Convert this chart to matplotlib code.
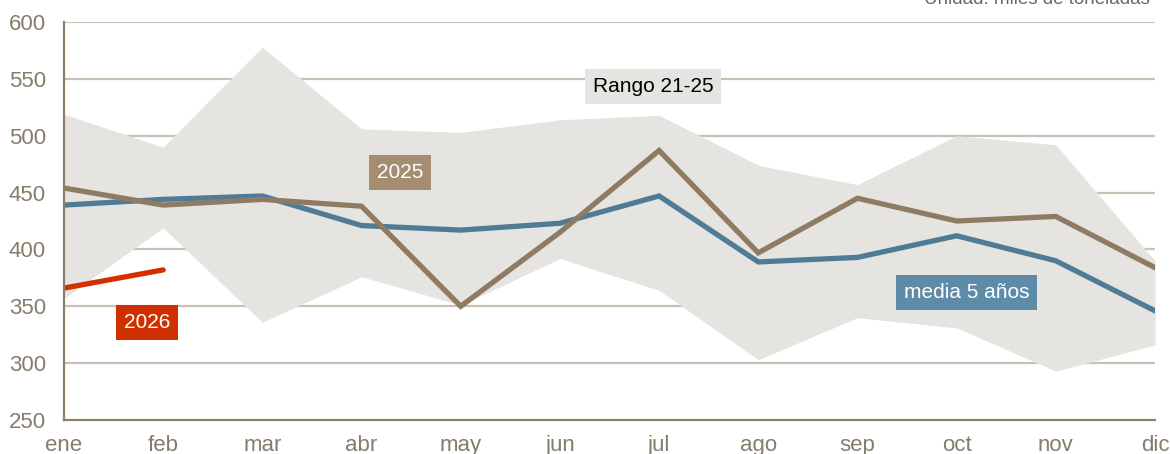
import matplotlib
matplotlib.use("Agg")
import matplotlib.pyplot as plt
import numpy as np

months = ["ene", "feb", "mar", "abr", "may", "jun", "jul", "ago", "sep", "oct", "nov", "dic"]
range_max = [519, 490, 578, 506, 503, 514, 518, 474, 457, 500, 492, 390]
range_min = [357, 419, 336, 376, 351, 392, 364, 303, 340, 331, 293, 316]
y2025 = [454, 439, 444, 438, 350, 415, 487, 397, 445, 425, 429, 384]
media5 = [439, 444, 447, 421, 417, 423, 447, 389, 393, 412, 390, 346]
y2026 = [366, 382]
yticks = [250, 300, 350, 400, 450, 500, 550, 600]

plt.rcParams['font.family'] = ['Liberation Sans', 'DejaVu Sans']

fig = plt.figure(figsize=(11.7, 4.54), dpi=100)
ax = fig.add_axes([64/1170, 1-420/454, (1155-64)/1170, (420-22)/454])

x = np.arange(len(months))
grid_c = "#c9c2b4"
for yv in yticks[1:]:
    ax.axhline(yv, color=grid_c, lw=1.6, zorder=1)

ax.fill_between(x, range_min, range_max, color="#e6e4e0", lw=0, zorder=2)
ax.plot(x, media5, color="#4f7b97", lw=3.8, zorder=3, solid_joinstyle='miter')
ax.plot(x, y2025, color="#8e7b63", lw=3.8, zorder=4, solid_joinstyle='miter')
ax.plot(x[:len(y2026)], y2026, color="#d42f00", lw=3.8, zorder=5, solid_capstyle='round')

ax.set_xlim(0, 11)
ax.set_ylim(250, 600)
ax.set_xticks(x)
ax.set_xticklabels(months)
ax.set_yticks(yticks)
ax.tick_params(axis='both', length=0, labelsize=16, colors="#857c6b")
ax.tick_params(axis='x', pad=11)
ax.tick_params(axis='y', pad=13)
for s in ["top", "right"]:
    ax.spines[s].set_visible(False)
for s in ["left", "bottom"]:
    ax.spines[s].set_color("#8c806c")
    ax.spines[s].set_linewidth(1.6)
    ax.spines[s].set_zorder(6)

def label(xv, yv, txt, fc, tc):
    ax.text(xv, yv, txt, ha='center', va='center', fontsize=15, color=tc, zorder=7,
            bbox=dict(boxstyle='square,pad=0.38', fc=fc, ec='none'))

label(5.94, 543, "Rango 21-25", "#e6e4e0", "black")
label(3.39, 468, "2025", "#a58d72", "white")
label(0.84, 336, "2026", "#d03000", "white")
label(9.1, 362, "media 5 años", "#5e8ca8", "white")

fig.text(1150/1170, 1 - 4.5/454, "Unidad: miles de toneladas", ha='right', va='baseline',
         fontsize=13.5, color="#6d685d")

fig.savefig("out.png", dpi=100)
